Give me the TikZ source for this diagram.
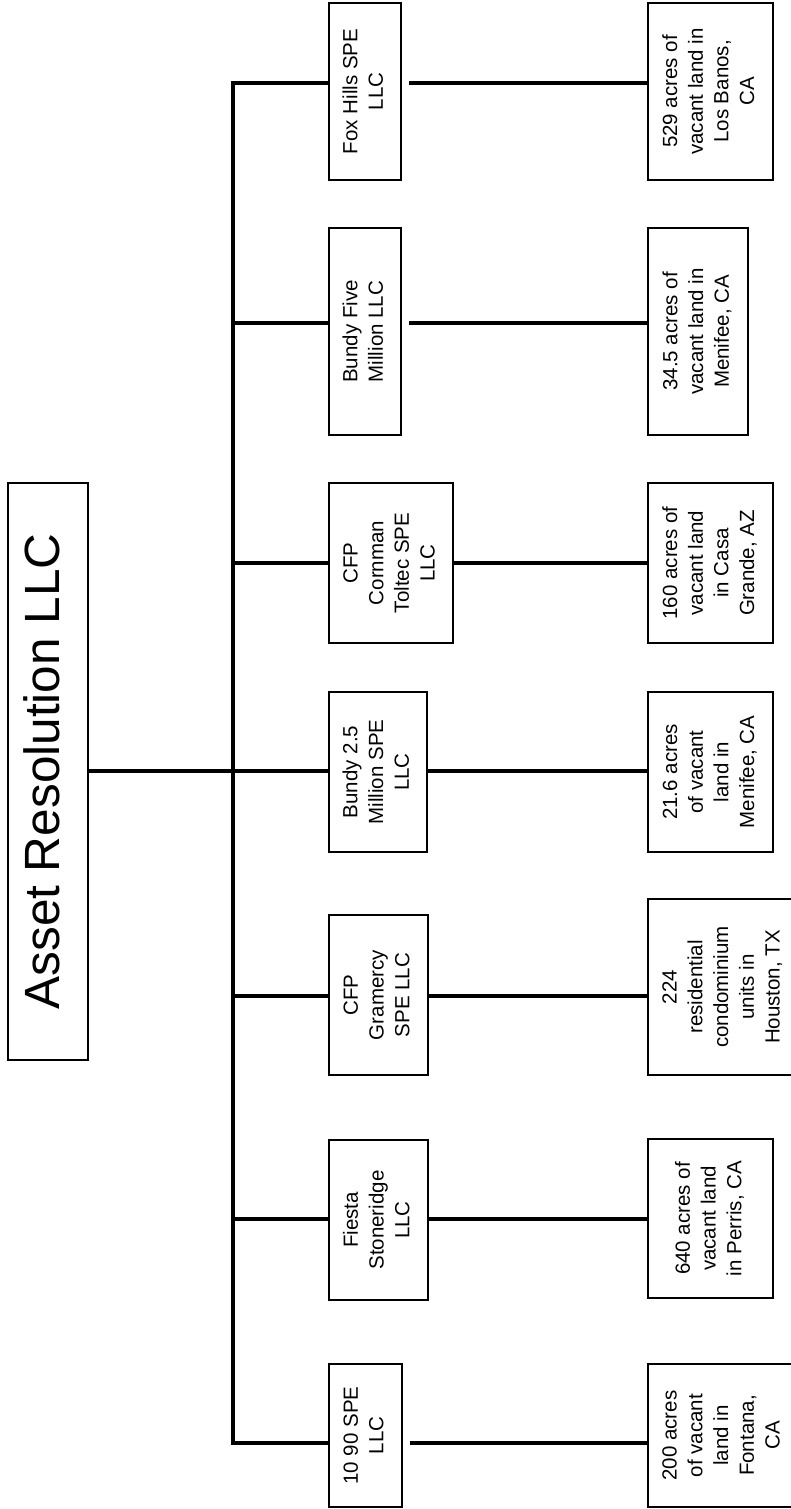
\documentclass[tikz,border=0pt]{standalone}
\usepackage{fontspec}
\setmainfont{Liberation Sans}
\usepackage{graphicx}
\newcommand\rottext[1]{\rotatebox{90}{\begin{tabular}{@{}c@{}}#1\end{tabular}}}
\begin{document}
\begin{tikzpicture}[x=1pt,y=-1pt,
  box/.style={draw,line width=2pt,inner sep=0pt,outer sep=0pt,font=\fontsize{20.5}{25.7}\selectfont},
  rootbox/.style={draw,line width=2pt,inner sep=0pt,outer sep=0pt,font=\fontsize{49.5}{56}\selectfont},
  conn/.style={line width=3.2pt}]
\useasboundingbox (0,0) rectangle (790,1509);
% root
\node[rootbox,minimum width=80pt,minimum height=577pt] (root) at (48,771.5) {\rottext{Asset Resolution LLC}};
% middle tier
\node[box,minimum width=72pt,minimum height=177pt] (m1) at (365,91.5) {\rottext{Fox Hills SPE\\LLC}};
\node[box,minimum width=72pt,minimum height=207pt] (m2) at (365,331.5) {\rottext{Bundy Five\\Million LLC}};
\node[box,minimum width=124pt,minimum height=160pt] (m3) at (391,563) {\rottext{CFP\\Cornman\\Toltec SPE\\LLC}};
\node[box,minimum width=98pt,minimum height=160pt] (m4) at (378,772) {\rottext{Bundy 2.5\\Million SPE\\LLC}};
\node[box,minimum width=99pt,minimum height=160pt] (m5) at (378.5,995) {\rottext{CFP\\Gramercy\\SPE LLC}};
\node[box,minimum width=99pt,minimum height=160pt] (m6) at (378.5,1220) {\rottext{Fiesta\\Stoneridge\\LLC}};
\node[box,minimum width=73pt,minimum height=143pt] (m7) at (365.5,1435.5) {\rottext{10 90 SPE\\LLC}};
% leaves
\node[box,minimum width=125pt,minimum height=177pt] (l1) at (710.5,91.5) {\rottext{529 acres of\\vacant land in\\Los Banos,\\CA}};
\node[box,minimum width=100pt,minimum height=207pt] (l2) at (698,331.5) {\rottext{34.5 acres of\\vacant land in\\Menifee, CA}};
\node[box,minimum width=125pt,minimum height=160pt] (l3) at (710.5,563) {\rottext{160 acres of\\vacant land\\in Casa\\Grande, AZ}};
\node[box,minimum width=125pt,minimum height=160pt] (l4) at (710.5,772) {\rottext{21.6 acres\\of vacant\\land in\\Menifee, CA}};
\node[box,minimum width=150pt,minimum height=176pt] (l5) at (723,987) {\rottext{224\\residential\\condominium\\units in\\Houston, TX}};
\node[box,minimum width=125pt,minimum height=159pt] (l6) at (710.5,1218.5) {\rottext{640 acres of\\vacant land\\in Perris, CA}};
\node[box,minimum width=150pt,minimum height=143pt] (l7) at (723,1435.5) {\rottext{200 acres\\of vacant\\land in\\Fontana,\\CA}};
% trunk junctions
\coordinate (t1) at (233,83);
\coordinate (t2) at (233,323);
\coordinate (t3) at (233,563);
\coordinate (t4) at (233,771);
\coordinate (t5) at (233,996);
\coordinate (t6) at (233,1219);
\coordinate (t7) at (233,1443);
% connectors
\draw[conn] (m1.west |- t1) -- (t1) -- (t7) -- (m7.west |- t7);
\draw[conn] (root.east |- t4) -- (t4);
\foreach \i in {2,...,6}{\draw[conn] (t\i) -- (m\i.west |- t\i);}
\draw[conn] ([xshift=8pt]m1.east |- t1) -- (l1.west |- t1);
\draw[conn] ([xshift=8pt]m2.east |- t2) -- (l2.west |- t2);
\draw[conn] (m3.east |- t3) -- (l3.west |- t3);
\draw[conn] (m4.east |- t4) -- (l4.west |- t4);
\draw[conn] (m5.east |- t5) -- (l5.west |- t5);
\draw[conn] (m6.east |- t6) -- (l6.west |- t6);
\draw[conn] ([xshift=8pt]m7.east |- t7) -- (l7.west |- t7);
\end{tikzpicture}
\end{document}
